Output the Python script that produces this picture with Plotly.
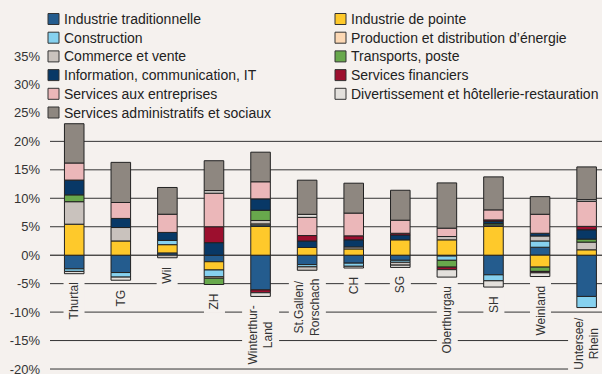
import plotly.graph_objects as go

# regions (display labels, line breaks kept as in the original)
regions = ["Thurtal", "TG", "Wil", "ZH", "Winterthur-<br>Land", "St.Gallen/<br>Rorschach",
           "CH", "SG", "Oberthurgau", "SH", "Weinland", "Untersee/<br>Rhein"]

# contribution to growth, in %, one list per branch
ind_trad    = [-2.4, -3.05, 0.4, -1.15, -6.1, -1.65, -1.4, -0.9, -0.15, -3.45, 1.4, -7.25]
ind_pointe  = [5.45, 2.5, 1.45, -1.45, 5.05, 1.35, 1.1, 2.7, 2.7, 5.05, -2.1, 0.95]
construction = [-0.45, -0.8, 0.75, -1.2, 0.25, -0.4, -0.55, -0.35, -0.75, -1.05, 1.1, -1.95]
energie     = [0, 0, 0, -0.25, 0.2, 0, 0, 0, 0, 0, 0, 0]
commerce    = [3.95, 2.36, -0.45, 0, 0.6, -0.6, 0.35, -0.5, 0.58, 0.25, 0.88, 1.35]
transports  = [1.2, 0, 0, -1.1, 1.8, 0, 0, 0, -1.2, 0.25, -0.75, 0.53]
info_it     = [2.6, 1.6, 1.4, 2.2, 2.0, 1.15, 1.25, 0.85, 0, 0.4, 0.47, 1.64]
financiers  = [0, 0, 0, 2.8, -0.5, 0.95, 0.7, 0.3, -0.45, 0.25, -0.25, 0.59]
entreprises = [3.0, 2.8, 3.2, 5.9, 3.0, 3.2, 4.0, 2.3, 1.47, 1.76, 3.34, 4.4]
divertiss   = [-0.4, -0.55, 0, 0.45, -0.65, 0.53, -0.3, -0.4, -1.3, -1.1, -0.65, 0.3]
admin_soc   = [6.9, 7.05, 4.7, 5.25, 5.2, 6.0, 5.25, 5.26, 7.95, 5.8, 3.1, 5.75]

series = [
    ("Industrie traditionnelle", ind_trad, "#245c8e"),
    ("Industrie de pointe", ind_pointe, "#fec92b"),
    ("Construction", construction, "#86d1ef"),
    ("Production et distribution d’énergie", energie, "#fcd8b4"),
    ("Commerce et vente", commerce, "#c9c2bd"),
    ("Transports, poste", transports, "#68a84c"),
    ("Information, communication, IT", info_it, "#083866"),
    ("Services financiers", financiers, "#9c0f2e"),
    ("Services aux entreprises", entreprises, "#ebb7b9"),
    ("Divertissement et hôtellerie-restauration", divertiss, "#e3e0dc"),
    ("Services administratifs et sociaux", admin_soc, "#8e8780"),
]

bg = "#f5f1ee"
font = "Liberation Sans, Arial, sans-serif"
W, H = 602, 374
ML, MR, MT, MB = 50, 0, 56, 1
pw, ph = W - ML - MR, H - MT - MB


def px_x(p):
    return (p - ML) / pw


def px_y(p):
    return (H - MB - p) / ph


fig = go.Figure()
for name, vals, col in series:
    fig.add_trace(go.Bar(x=regions, y=[v if v != 0 else None for v in vals], name=name,
                         width=0.42, showlegend=False,
                         marker=dict(color=col, line=dict(color="#222", width=1))))

# gridlines as shapes (they stop below the legend), under the bars
for g in range(-20, 25, 5):
    fig.add_shape(type="line", xref="x domain", x0=0, x1=1, yref="y", y0=g, y1=g,
                  line=dict(color="#000" if g == 0 else "#333", width=1), layer="below")

# legend in two columns, filled row by row
for k, (name, vals, col) in enumerate(series):
    row, c = divmod(k, 2)
    cy = 19 + row * 18.7
    sx = 48 if c == 0 else 335
    fig.add_shape(type="rect", xref="paper", yref="paper",
                  x0=px_x(sx), x1=px_x(sx + 11), y0=px_y(cy + 5.5), y1=px_y(cy - 5.5),
                  fillcolor=col, line=dict(color="#333", width=1), layer="above")
    fig.add_annotation(xref="paper", yref="paper", x=px_x(sx + 14), y=px_y(cy), text=name,
                       showarrow=False, xanchor="left", yanchor="middle",
                       font=dict(size=14, color="#222", family=font))

# region labels just under each bar
for i, r in enumerate(regions):
    bottom = sum(min(s[1][i], 0) for s in series)
    fig.add_annotation(x=r, y=bottom, text=r, textangle=-90, showarrow=False,
                       xanchor="center", yanchor="top", yshift=-5, bgcolor=bg, borderpad=3,
                       font=dict(size=12, color="#333", family=font))

fig.update_layout(
    barmode="relative",
    width=W, height=H,
    margin=dict(l=ML, r=MR, t=MT, b=MB, autoexpand=False),
    paper_bgcolor=bg, plot_bgcolor=bg,
    font=dict(family=font, color="#222"),
    showlegend=False,
    xaxis=dict(type="category", range=[-0.52, 11.33], showticklabels=False, showgrid=False,
               zeroline=False, showline=False),
    yaxis=dict(range=[-20.7, 35], tickvals=list(range(-20, 40, 5)),
               ticktext=[f"{v}%" for v in range(-20, 40, 5)], showgrid=False, zeroline=False,
               ticklabelstandoff=9, ticklabeloverflow="allow",
               tickfont=dict(size=13, color="#333", family=font)),
)

fig.write_html("out.html", config={"displayModeBar": False},
               post_script="document.body.style.margin='0';document.body.style.overflow='hidden';")
